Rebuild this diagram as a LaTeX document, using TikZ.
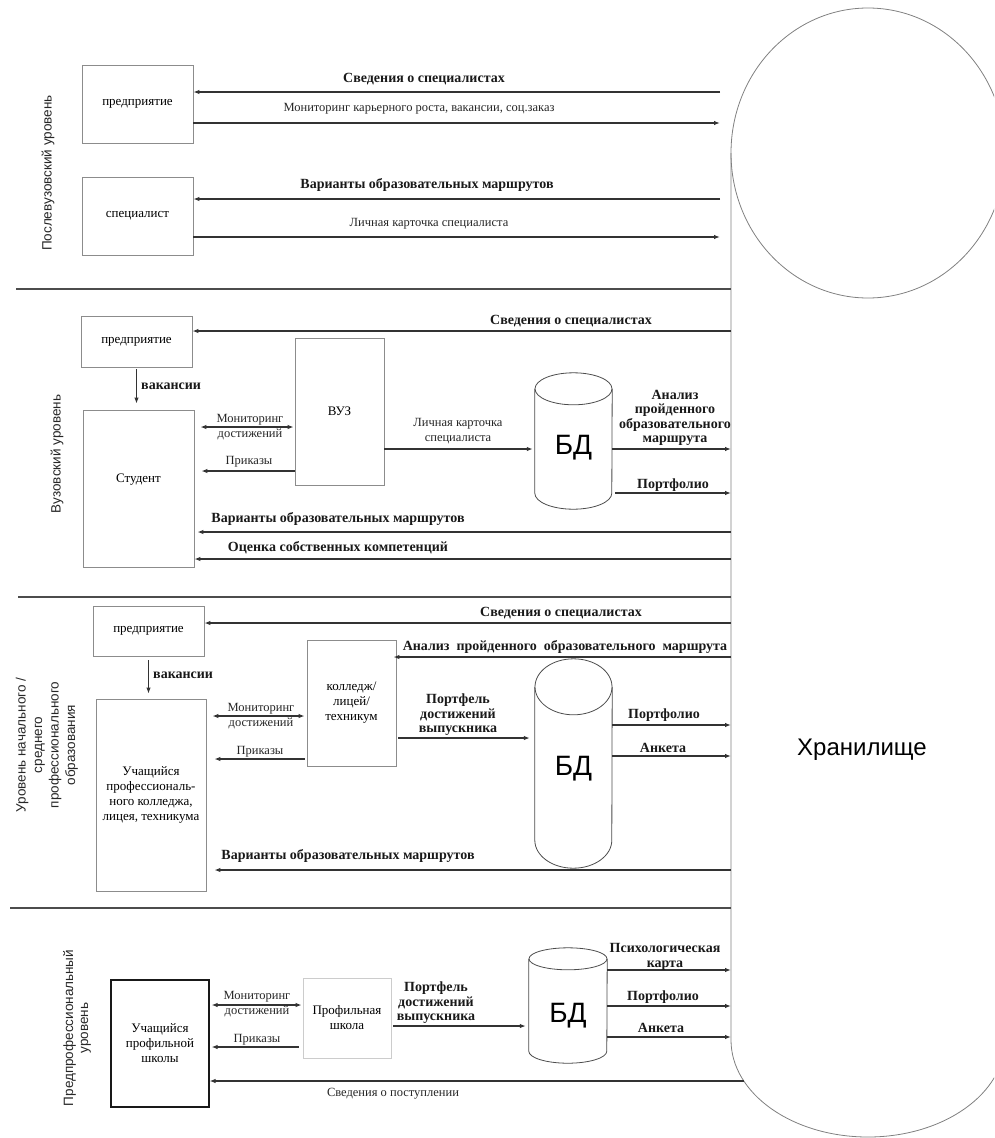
\documentclass[tikz,border=0pt]{standalone}
\usepackage{fontspec}
\setmainfont{Liberation Serif}
\newfontfamily\arialfont{Liberation Sans}
\usetikzlibrary{arrows.meta}

\begin{document}
\begin{tikzpicture}[x=1pt,y=-1pt,
        box/.style={rectangle,draw=black!45,line width=0.8pt,
          inner sep=0pt,align=center,font=\fontsize{13}{15}\selectfont},
        arr/.style={-{Latex[length=6pt,width=4.5pt]},line width=1.2pt,draw=black!80},
        darr/.style={{Latex[length=6pt,width=4.5pt]}-{Latex[length=6pt,width=4.5pt]},
          line width=1.2pt,draw=black!80},
        sep/.style={line width=1.6pt,draw=black!70},
        rim/.style={line width=0.8pt,draw=black!50},
        lbl/.style={inner sep=0pt,align=center,text=black!85,
          font=\fontsize{12.5}{15}\selectfont},
        blbl/.style={inner sep=0pt,align=center,text=black!90,
          font=\bfseries\fontsize{14}{14.5}\selectfont},
        lvl/.style={inner sep=0pt,align=center,rotate=90,text=black!85,
          font=\arialfont\fontsize{13.5}{16.5}\selectfont},
        bd/.style={inner sep=0pt,font=\arialfont\fontsize{28}{28}\selectfont}]
      \useasboundingbox (0,0) rectangle (994,1138);
      \begin{scope}
        \clip (0,0) rectangle (994,1138);
        \draw[rim] (868,153) ellipse [x radius=137pt,y radius=145pt];
        \draw[rim] (731,153) -- (731,1040)
          arc[start angle=180,end angle=360,x radius=137pt,y radius=97pt];
      \end{scope}
      \node (store) at (862,750) [font=\arialfont\fontsize{24}{24}\selectfont] {Хранилище};
      \coordinate (wall) at (731,153);
      \coordinate (rim1) at (720,153);
      \coordinate (brim) at (744,1081);

      \node (ent1) at (137.5,104) [box,minimum width=111,minimum height=78] {предприятие};
      \node (spec) at (137.5,216) [box,minimum width=111,minimum height=78] {специалист};
      \draw (rim1 |- 0,92) edge[arr] (ent1.east |- 0,92);
      \draw (ent1.east |- 0,123) edge[arr] (rim1 |- 0,123);
      \draw (rim1 |- 0,199) edge[arr] (spec.east |- 0,199);
      \draw (spec.east |- 0,237) edge[arr] (rim1 |- 0,237);
      \node (p1a) at (424,79) [blbl] {Сведения о специалистах};
      \node (p1b) at (419,109) [lbl] {Мониторинг карьерного роста, вакансии, соц.заказ};
      \node (p1c) at (427,185) [blbl] {Варианты образовательных маршрутов};
      \node (p1d) at (429,224) [lbl] {Личная карточка специалиста};
      \node (lvl1) at (48,173) [lvl] {Послевузовский уровень};
      \draw[sep] (16,289) -- (wall |- 0,289);

      \node (ent2) at (136.5,341.5) [box,minimum width=111,minimum height=51] {предприятие};
      \node (stud) at (138.5,488.5) [box,text depth=21pt,minimum width=111,minimum height=157] {Студент};
      \node (vuz) at (339.5,411.5) [box,minimum width=89,minimum height=147] {ВУЗ};
      \node (db2) at (573.5,441) [bd,text height=32pt,minimum width=77,minimum height=104] {БД};
      \draw[rim,black!70] (db2.north) ellipse [x radius=38.5pt,y radius=16pt];
      \draw[rim,black!70] (db2.north west) -- (db2.south west)
        arc[start angle=180,end angle=360,x radius=38.5pt,y radius=16pt] -- (db2.north east);
      \draw (wall |- 0,331) edge[arr] (ent2.east |- 0,331);
      \draw (ent2.south) edge[arr,shorten <=2pt,shorten >=6pt] (ent2.south |- stud.north);
      \draw (stud.east |- 0,427) edge[darr,shorten <=6pt,shorten >=1pt] (vuz.west |- 0,427);
      \draw (vuz.west |- 0,471) edge[arr,shorten >=7pt] (stud.east |- 0,471);
      \draw (vuz.east |- 0,449) edge[arr,shorten >=2pt] (db2.west |- 0,449);
      \draw (db2.east |- 0,449) edge[arr] (wall |- 0,449);
      \draw (db2.east |- 0,493) edge[arr,shorten <=3pt] (wall |- 0,493);
      \draw (wall |- 0,532) edge[arr,shorten >=3pt] (stud.east |- 0,532);
      \draw (wall |- 0,559) edge[arr] (stud.east |- 0,559);
      \node (p2a) at (571,321) [blbl] {Сведения о специалистах};
      \node (p2b) at (141,386) [blbl,anchor=west] {вакансии};
      \node (p2c) at (250,427) [lbl] {Мониторинг\\достижений};
      \node (p2d) at (249,462) [lbl] {Приказы};
      \node (p2e) at (458,431) [lbl] {Личная карточка\\специалиста};
      \node (p2f) at (675,418) [blbl] {Анализ\\пройденного\\образовательного\\маршрута};
      \node (p2g) at (673,485) [blbl] {Портфолио};
      \node (p2h) at (338,519) [blbl] {Варианты образовательных маршрутов};
      \node (p2i) at (338,548) [blbl] {Оценка собственных компетенций};
      \node (lvl2) at (57,454) [lvl] {Вузовский уровень};
      \draw[sep] (18,597) -- (wall |- 0,597);

      \node (ent3) at (148.5,631) [box,minimum width=111,minimum height=50] {предприятие};
      \node (uch3) at (151,795) [box,minimum width=110,minimum height=192]
        {Учащийся\\профессиональ-\\ного колледжа,\\лицея, техникума};
      \node (coll) at (351.5,703) [box,minimum width=89,minimum height=126] {колледж/\\лицей/\\техникум};
      \node (db3) at (573.5,763.5) [bd,text height=30pt,minimum width=77,minimum height=153] {БД};
      \draw[rim,black!70] (db3.north) ellipse [x radius=38.5pt,y radius=28pt];
      \draw[rim,black!70] (db3.north west) -- (db3.south west)
        arc[start angle=180,end angle=360,x radius=38.5pt,y radius=28pt] -- (db3.north east);
      \draw (wall |- 0,623) edge[arr] (ent3.east |- 0,623);
      \draw (wall |- 0,657) edge[arr,shorten >=-3pt] (coll.east |- 0,657);
      \draw (ent3.south) edge[arr,shorten <=4pt,shorten >=5pt] (ent3.south |- uch3.north);
      \draw (uch3.east |- 0,716) edge[darr,shorten <=6pt,shorten >=2pt] (coll.west |- 0,716);
      \draw (coll.west |- 0,759) edge[arr,shorten <=2pt,shorten >=8pt] (uch3.east |- 0,759);
      \draw (coll.east |- 0,738) edge[arr,shorten <=2pt,shorten >=5pt] (db3.west |- 0,738);
      \draw (db3.east |- 0,725) edge[arr] (wall |- 0,725);
      \draw (db3.east |- 0,756) edge[arr] (wall |- 0,756);
      \draw (wall |- 0,870) edge[arr,shorten >=8pt] (uch3.east |- 0,870);
      \node (p3a) at (561,613) [blbl] {Сведения о специалистах};
      \node (p3b) at (565,647) [blbl] {Анализ\ \ пройденного\ \ образовательного\ \ маршрута};
      \node (p3c) at (153,675) [blbl,anchor=west] {вакансии};
      \node (p3d) at (261,716) [lbl] {Мониторинг\\достижений};
      \node (p3e) at (260,752) [lbl] {Приказы};
      \node (p3f) at (458,715) [blbl] {Портфель\\достижений\\выпускника};
      \node (p3g) at (664,715) [blbl] {Портфолио};
      \node (p3h) at (663,748) [blbl] {Анкета};
      \node (p3i) at (348,856) [blbl] {Варианты образовательных маршрутов};
      \node (lvl3) at (47,745) [lvl] {Уровень начального /\\среднего\\профессионального\\образования};
      \draw[sep] (10,908) -- (wall |- 0,908);

      \node (uch4) at (160,1043.5) [box,draw=black!90,line width=1.2pt,minimum width=98,minimum height=127]
        {Учащийся\\профильной\\школы};
      \node (prof) at (347,1018) [box,draw=black!20,minimum width=88,minimum height=80] {Профильная\\школа};
      \node (db4) at (568,1005) [bd,text height=40pt,minimum width=78,minimum height=92] {БД};
      \draw[rim,black!70] (db4.north) ellipse [x radius=39pt,y radius=11pt];
      \draw[rim,black!70] (db4.north west) -- (db4.south west)
        arc[start angle=180,end angle=360,x radius=39pt,y radius=12pt] -- (db4.north east);
      \draw (uch4.east |- 0,1005) edge[darr,shorten <=2pt,shorten >=1pt] (prof.west |- 0,1005);
      \draw (prof.west |- 0,1047) edge[arr,shorten <=4pt,shorten >=2pt] (uch4.east |- 0,1047);
      \draw (prof.east |- 0,1026) edge[arr,shorten <=2pt,shorten >=3pt] (db4.west |- 0,1026);
      \draw (db4.east |- 0,970) edge[arr] (wall |- 0,970);
      \draw (db4.east |- 0,1006) edge[arr] (wall |- 0,1006);
      \draw (db4.east |- 0,1037) edge[arr] (wall |- 0,1037);
      \draw (brim) edge[arr] (uch4.east |- brim);
      \node (p4a) at (257,1004) [lbl] {Мониторинг\\достижений};
      \node (p4b) at (257,1040) [lbl] {Приказы};
      \node (p4c) at (436,1003) [blbl] {Портфель\\достижений\\выпускника};
      \node (p4d) at (665,957) [blbl] {Психологическая\\карта};
      \node (p4e) at (663,997) [blbl] {Портфолио};
      \node (p4f) at (661,1028) [blbl] {Анкета};
      \node (p4g) at (393,1094) [lbl] {Сведения о поступлении};
      \node (lvl4) at (77,1028) [lvl,font=\arialfont\fontsize{13.5}{15}\selectfont] {Предпрофессиональный\\уровень};
\end{tikzpicture}
\end{document}
